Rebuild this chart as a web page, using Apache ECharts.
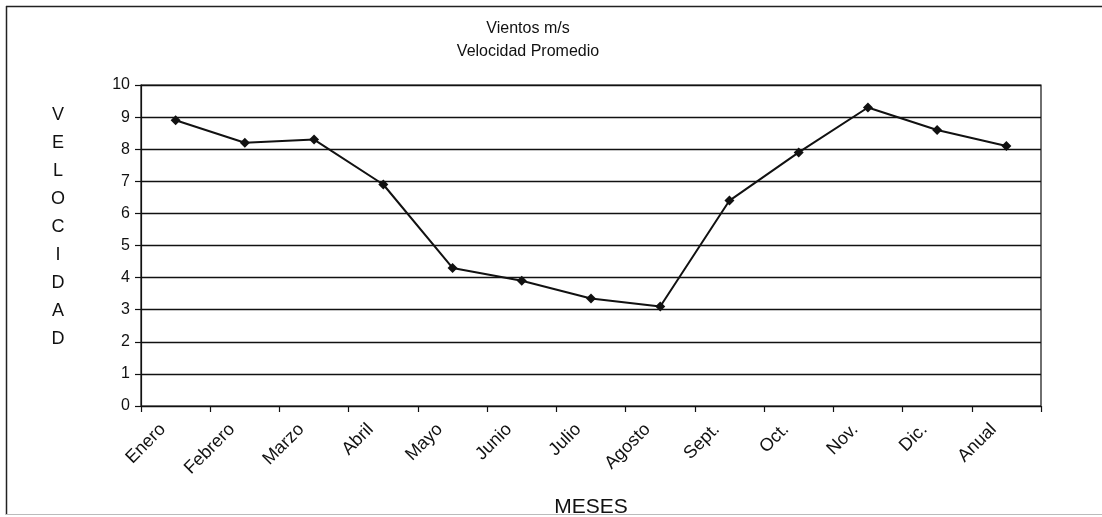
<!DOCTYPE html>
<html>
<head>
<meta charset="utf-8">
<script src="https://cdn.jsdelivr.net/npm/echarts@6/dist/echarts.min.js"></script>
<style>
html,body{margin:0;padding:0;background:#fff;}
#chart{width:1102px;height:517px;}
</style>
</head>
<body>
<div id="chart"></div>
<script>
var categories = ['Enero','Febrero','Marzo','Abril','Mayo','Junio','Julio','Agosto','Sept.','Oct.','Nov.','Dic.','Anual'];
var velocidad = [8.9, 8.2, 8.3, 6.9, 4.3, 3.9, 3.35, 3.1, 6.4, 7.9, 9.3, 8.6, 8.1];
var titleLines = ['Vientos m/s', 'Velocidad Promedio'];
var yAxisTitle = 'VELOCIDAD';
var xAxisTitle = 'MESES';

var chart = echarts.init(document.getElementById('chart'));
var font = 'Arial, "Liberation Sans", sans-serif';
chart.setOption({
  backgroundColor: '#fff',
  animation: false,
  title: {
    text: titleLines.join('\n'),
    left: 523, top: 12, textAlign: 'center',
    textStyle: {fontFamily: font, fontSize: 16, fontWeight: 'normal', color: '#111', lineHeight: 23}
  },
  graphic: [
    {type: 'line', shape: {x1: 6, y1: 6.5, x2: 1102, y2: 6.5}, style: {stroke: '#222', lineWidth: 1.5}},
    {type: 'line', shape: {x1: 6.5, y1: 6, x2: 6.5, y2: 515}, style: {stroke: '#222', lineWidth: 1.5}},
    {type: 'line', shape: {x1: 6, y1: 514.5, x2: 1102, y2: 514.5}, style: {stroke: '#bbb', lineWidth: 1}},
    {type: 'text', x: 58, y: 101, style: {
      text: yAxisTitle.split('').join('\n'), fill: '#111',
      font: '18px Arial, "Liberation Sans", sans-serif',
      lineHeight: 28, textAlign: 'center', textVerticalAlign: 'top'
    }}
  ],
  grid: {left: 141, right: 61, top: 85, bottom: 111, containLabel: false, outerBoundsMode: 'none',
         show: true, borderColor: '#111', borderWidth: 1.2, backgroundColor: 'transparent'},
  xAxis: {
    type: 'category',
    data: categories,
    boundaryGap: true,
    name: xAxisTitle,
    nameLocation: 'middle',
    nameGap: 91,
    nameTextStyle: {fontFamily: font, fontSize: 21, color: '#111'},
    axisLine: {lineStyle: {color: '#111', width: 1.2}},
    axisTick: {show: true, length: 6, inside: false, lineStyle: {color: '#111', width: 1.2}},
    axisLabel: {rotate: 45, fontFamily: font, fontSize: 18, color: '#111', margin: 8, interval: 0,
                padding: [0, 18, 0, 0]},
    splitLine: {show: false}
  },
  yAxis: {
    type: 'value',
    min: 0, max: 10, interval: 1,
    axisLine: {show: true, lineStyle: {color: '#111', width: 1.2}},
    axisTick: {show: true, length: 6, lineStyle: {color: '#111', width: 1.2}},
    axisLabel: {fontFamily: font, fontSize: 16, color: '#111', margin: 11},
    splitLine: {show: true, lineStyle: {color: '#111', width: 1.3}}
  },
  series: [{
    type: 'line',
    data: velocidad,
    symbol: 'diamond',
    symbolSize: 10,
    lineStyle: {color: '#111', width: 2},
    itemStyle: {color: '#111'}
  }]
});
</script>
</body>
</html>
